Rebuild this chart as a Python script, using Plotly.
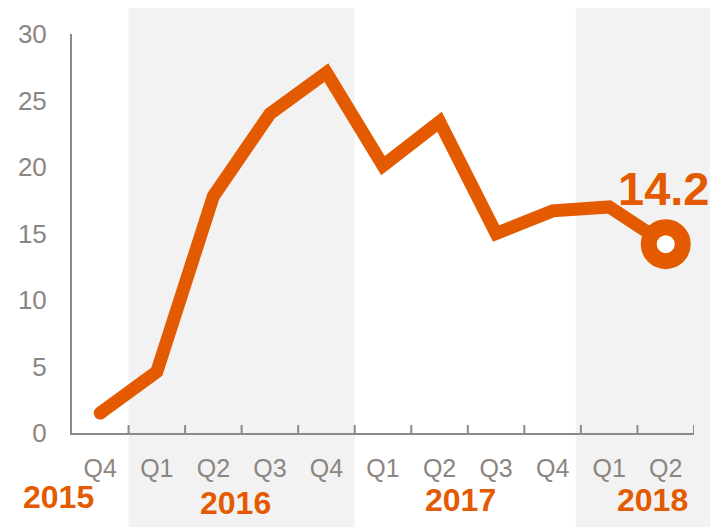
import plotly.graph_objects as go

categories = ["Q4", "Q1", "Q2", "Q3", "Q4", "Q1", "Q2", "Q3", "Q4", "Q1", "Q2"]
values = [1.5, 4.6, 17.8, 24.0, 27.1, 20.1, 23.4, 15.0, 16.7, 17.0, 14.2]
years = ["2015", "2016", "2017", "2018"]
year_centers = [-0.021, 0.263, 0.625, 0.934]
year_y = [-0.16, -0.175, -0.168, -0.168]
y_ticks = [0, 5, 10, 15, 20, 25, 30]

ORANGE = "#E35A00"
GRAY_TXT = "#8C8580"
AXIS = "#8A8A8A"
SHADE = "#F2F2F2"

x = list(range(len(categories)))

fig = go.Figure()
fig.add_trace(go.Scatter(
    x=x, y=values, mode="lines",
    line=dict(color=ORANGE, width=13),
    cliponaxis=False, hoverinfo="skip", showlegend=False,
))
# rounded start cap of the line
fig.add_trace(go.Scatter(
    x=[x[0]], y=[values[0]], mode="markers",
    marker=dict(size=13, color=ORANGE, line=dict(width=0)),
    cliponaxis=False, hoverinfo="skip", showlegend=False,
))
fig.add_trace(go.Scatter(
    x=[x[-1]], y=[values[-1]], mode="markers",
    marker=dict(size=34, color="white", line=dict(color=ORANGE, width=16)),
    cliponaxis=False, hoverinfo="skip", showlegend=False,
))

shapes = [
    dict(type="rect", xref="x", yref="paper", x0=0.5, x1=4.5, y0=-0.25, y1=1.065,
         fillcolor=SHADE, line=dict(width=0), layer="below"),
    dict(type="rect", xref="x", yref="paper", x0=8.41, x1=10.5, y0=-0.25, y1=1.065,
         fillcolor=SHADE, line=dict(width=0), layer="below"),
    dict(type="rect", xref="paper", yref="paper", x0=0.999, x1=1.1, y0=-0.25, y1=1.065,
         fillcolor=SHADE, line=dict(width=0), layer="below"),
]
for k in range(len(categories) + 1):
    b = k - 0.5
    shapes.append(dict(type="line", xref="x", yref="y", x0=b, x1=b, y0=-0.6, y1=0.6 if k > 0 else 0,
                       line=dict(color=AXIS, width=2), layer="above"))
fig.update_layout(shapes=shapes)

annotations = []
for yr, xc, yy in zip(years, year_centers, year_y):
    annotations.append(dict(x=xc, y=yy, xref="paper", yref="paper", text=yr, showarrow=False,
                            font=dict(family="Liberation Sans, Arial", size=32, color=ORANGE,
                                      weight="bold"),
                            xanchor="center", yanchor="middle"))
annotations.append(dict(x=x[-1], y=values[-1], xref="x", yref="y", text=f"{values[-1]}",
                        showarrow=False, yshift=56, xshift=-2,
                        font=dict(family="Liberation Sans, Arial", size=47, color=ORANGE,
                                  weight="bold"),
                        xanchor="center", yanchor="middle"))
fig.update_layout(annotations=annotations)

fig.update_layout(
    width=710, height=519,
    margin=dict(l=64, r=24, t=26, b=94, autoexpand=False),
    paper_bgcolor="white", plot_bgcolor="rgba(0,0,0,0)",
    font=dict(family="Liberation Sans, Arial", color=GRAY_TXT),
    xaxis=dict(
        range=[-0.5, 10.5], tickvals=x, ticktext=categories, automargin=False,
        showgrid=False, zeroline=False, showline=True, linecolor=AXIS, linewidth=2,
        ticks="", tickfont=dict(size=25, color=GRAY_TXT), ticklabelstandoff=12,
        fixedrange=True,
    ),
    yaxis=dict(
        range=[0, 30], tickvals=y_ticks, automargin=False,
        showgrid=False, zeroline=False, showline=True, linecolor=AXIS, linewidth=2,
        ticks="", tickfont=dict(size=26, color=GRAY_TXT), ticklabelstandoff=18,
        fixedrange=True,
    ),
)

fig.write_html("out.html")
